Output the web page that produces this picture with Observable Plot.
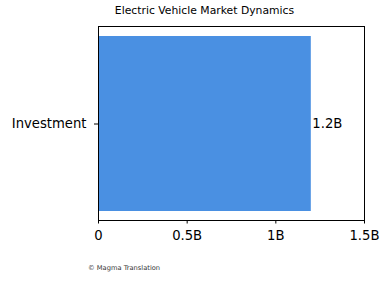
<!DOCTYPE html>
<html>
<head>
<meta charset="utf-8">
<script src="https://cdn.jsdelivr.net/npm/d3@7"></script>
<script src="https://cdn.jsdelivr.net/npm/@observablehq/plot@0.6"></script>
<style>
  html, body { margin: 0; padding: 0; background: #fff; }
  #wrap { position: relative; width: 390px; height: 282px; font-family: "DejaVu Sans", sans-serif; }
  #title { position: absolute; left: 0; width: 409px; top: 6px; text-align: center; font-size: 10.8px; color: #000; white-space: nowrap; line-height: 1; }
  #caption { position: absolute; left: 88px; top: 265px; font-size: 6.7px; color: #333; white-space: nowrap; line-height: 1; }
  #chart svg { display: block; }
</style>
</head>
<body>
<div id="wrap">
  <div id="chart"></div>
  <div id="title">Electric Vehicle Market Dynamics</div>
  <div id="caption">© Magma Translation</div>
</div>
<script>
const categories = ["Investment"];
const values = [1.2e9];
const valueLabels = ["1.2B"];
const xTicks = [0, 0.5e9, 1e9, 1.5e9];
const xTickLabels = ["0", "0.5B", "1B", "1.5B"];

const data = categories.map((c, i) => ({category: c, value: values[i], label: valueLabels[i]}));

const chart = Plot.plot({
  width: 390,
  height: 282,
  marginLeft: 98,
  marginRight: 26,
  marginTop: 26,
  marginBottom: 62,
  style: {fontFamily: "DejaVu Sans, sans-serif", fontSize: "13.2px", color: "#000", background: "#fff"},
  x: {domain: [0, 1.5e9], ticks: xTicks, tickFormat: (d) => xTickLabels[xTicks.indexOf(d)], label: null},
  y: {domain: categories, paddingInner: 0.1, paddingOuter: 0.045, label: null},
  marks: [
    Plot.barX(data, {x: "value", y: "category", fill: "#4a90e2"}),
    Plot.text(data, {x: "value", y: "category", text: "label", textAnchor: "start", dx: 1, fontSize: 13.2, fill: "#000"}),
    Plot.frame({stroke: "#000", strokeWidth: 1}),
    Plot.axisX({ticks: xTicks, tickFormat: (d) => xTickLabels[xTicks.indexOf(d)], tickSize: 3.5, tickPadding: 7, fontSize: 13.2, stroke: "#000", label: null}),
    Plot.axisY({tickSize: 4, tickPadding: 8, fontSize: 13.2, stroke: "#000", label: null})
  ]
});
document.getElementById("chart").appendChild(chart);
</script>
</body>
</html>
